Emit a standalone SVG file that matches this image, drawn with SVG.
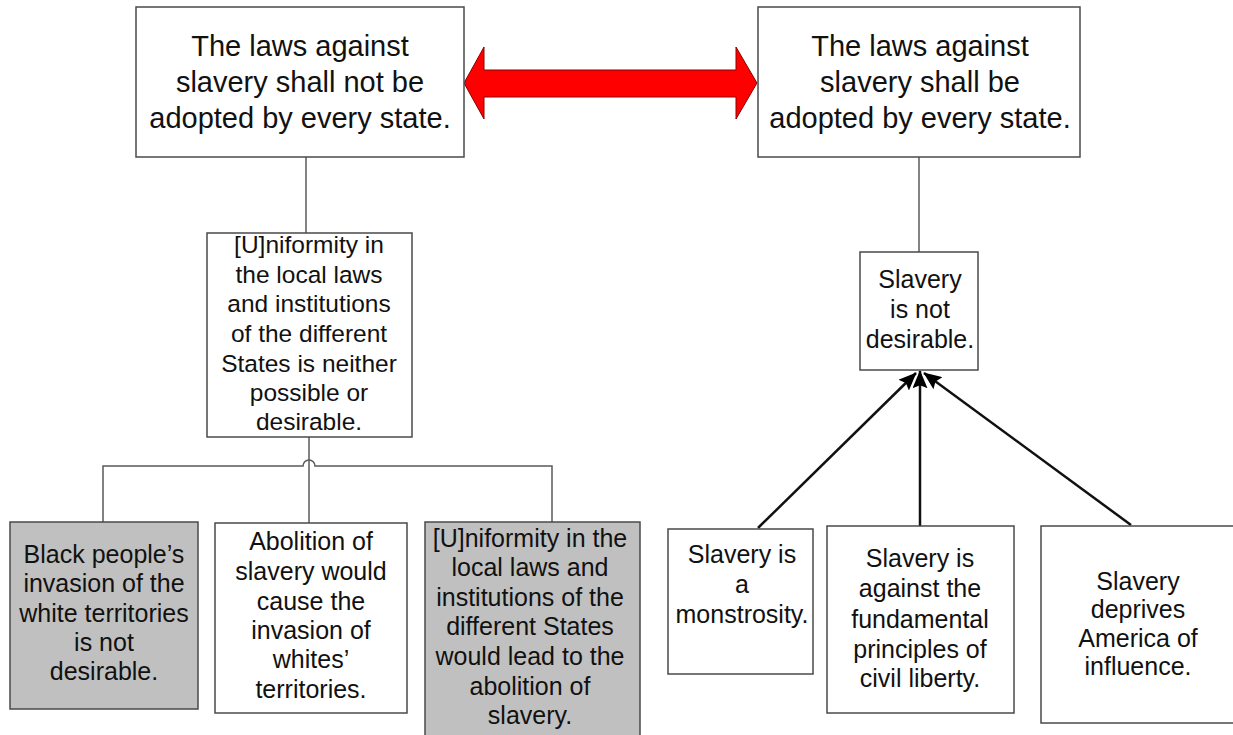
<svg xmlns="http://www.w3.org/2000/svg" width="1233" height="735" viewBox="0 0 1233 735">
<style>
.box{fill:#fff;stroke:#4a4a4a;stroke-width:1.5}
.gray{fill:#c0c0c0;stroke:#4a4a4a;stroke-width:1.5}
.t{font-family:"Liberation Sans",Arial,sans-serif;fill:#111;text-anchor:middle}
.big{font-size:29px}
.med{font-size:24.5px}
.sm{font-size:25px}
.ln{fill:none;stroke:#5a5a5a;stroke-width:1.5}
.ar{fill:none;stroke:#111;stroke-width:2.5}
</style>
<defs>
<marker id="ah" viewBox="0 0 12 10" refX="11.5" refY="5" markerWidth="7.2" markerHeight="6" markerUnits="strokeWidth" orient="auto">
<path d="M0,0 L12,5 L0,10 L2,5 Z" fill="#000"/>
</marker>
</defs>
<rect width="1233" height="735" fill="#fff"/>
<g id="connectors">
<line class="ln" x1="306" y1="157" x2="306" y2="233"/>
<line class="ln" x1="309" y1="437" x2="309" y2="523"/>
<path class="ln" d="M103,522 V466 H303 A6,6 0 0 1 315,466 H552 V522"/>
<line class="ln" x1="919" y1="157" x2="919" y2="252"/>
<line class="ar" x1="758" y1="528" x2="916" y2="373" marker-end="url(#ah)"/>
<line class="ar" x1="920" y1="526" x2="920" y2="371" marker-end="url(#ah)"/>
<line class="ar" x1="1131" y1="525" x2="924" y2="373" marker-end="url(#ah)"/>
<polygon points="464,83 484,47 484,70 736,70 736,47 757,83 736,119 736,97 484,97 484,119" fill="#ff0000" stroke="#8b0000" stroke-width="1"/>
</g>
<g id="n1">
<rect class="box" x="136" y="7" width="328" height="150"/>
<text class="t big" x="300" y="56">The laws against</text>
<text class="t big" x="300" y="92">slavery shall not be</text>
<text class="t big" x="300" y="128">adopted by every state.</text>
</g>
<g id="n2">
<rect class="box" x="758" y="7" width="322" height="150"/>
<text class="t big" x="920" y="56">The laws against</text>
<text class="t big" x="920" y="92">slavery shall be</text>
<text class="t big" x="920" y="128">adopted by every state.</text>
</g>
<g id="n3">
<rect class="box" x="207" y="233" width="205" height="204"/>
<text class="t med" x="309" y="253">[U]niformity in</text>
<text class="t med" x="309" y="283">the local laws</text>
<text class="t med" x="309" y="312">and institutions</text>
<text class="t med" x="309" y="342">of the different</text>
<text class="t med" x="309" y="372">States is neither</text>
<text class="t med" x="309" y="401">possible or</text>
<text class="t med" x="309" y="430">desirable.</text>
</g>
<g id="n4">
<rect class="gray" x="10" y="522" width="188" height="187"/>
<text class="t sm" x="104" y="563">Black people’s</text>
<text class="t sm" x="104" y="592">invasion of the</text>
<text class="t sm" x="104" y="622">white territories</text>
<text class="t sm" x="104" y="651">is not</text>
<text class="t sm" x="104" y="680">desirable.</text>
</g>
<g id="n5">
<rect class="box" x="215" y="523" width="192" height="190"/>
<text class="t sm" x="311" y="550">Abolition of</text>
<text class="t sm" x="311" y="580">slavery would</text>
<text class="t sm" x="311" y="610">cause the</text>
<text class="t sm" x="311" y="639">invasion of</text>
<text class="t sm" x="311" y="668">whites’</text>
<text class="t sm" x="311" y="698">territories.</text>
</g>
<g id="n6">
<rect class="gray" x="425" y="522" width="215" height="220"/>
<text class="t sm" x="530" y="547">[U]niformity in the</text>
<text class="t sm" x="530" y="576">local laws and</text>
<text class="t sm" x="530" y="606">institutions of the</text>
<text class="t sm" x="530" y="635">different States</text>
<text class="t sm" x="530" y="665">would lead to the</text>
<text class="t sm" x="530" y="695">abolition of</text>
<text class="t sm" x="530" y="724">slavery.</text>
</g>
<g id="n7">
<rect class="box" x="860" y="252" width="118" height="118"/>
<text class="t sm" x="920" y="288">Slavery</text>
<text class="t sm" x="920" y="318">is not</text>
<text class="t sm" x="920" y="348">desirable.</text>
</g>
<g id="n8">
<rect class="box" x="668" y="529" width="145" height="145"/>
<text class="t sm" x="742" y="563">Slavery is</text>
<text class="t sm" x="742" y="593">a</text>
<text class="t sm" x="742" y="623">monstrosity.</text>
</g>
<g id="n9">
<rect class="box" x="827" y="526" width="187" height="187"/>
<text class="t sm" x="920" y="567">Slavery is</text>
<text class="t sm" x="920" y="597">against the</text>
<text class="t sm" x="920" y="628">fundamental</text>
<text class="t sm" x="920" y="658">principles of</text>
<text class="t sm" x="920" y="687">civil liberty.</text>
</g>
<g id="n10">
<rect class="box" x="1041" y="526" width="196" height="197"/>
<text class="t sm" x="1138" y="590">Slavery</text>
<text class="t sm" x="1138" y="618">deprives</text>
<text class="t sm" x="1138" y="647">America of</text>
<text class="t sm" x="1138" y="675">influence.</text>
</g>
</svg>
